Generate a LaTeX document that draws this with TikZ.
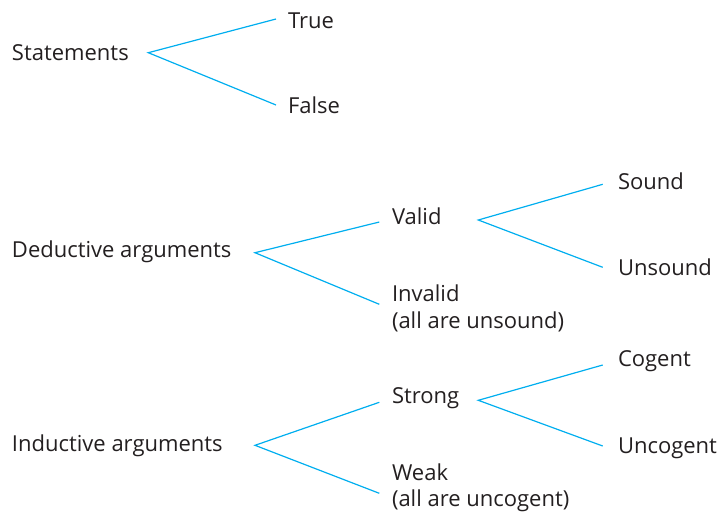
\documentclass[tikz,border=0pt]{standalone}
\usepackage{fontspec}
\setmainfont{Open Sans}
\usetikzlibrary{calc}
\definecolor{linkc}{RGB}{0,174,239}
\definecolor{txt}{RGB}{35,31,32}
\tikzset{
  lbl/.style={inner sep=0pt, outer sep=0pt, anchor=base west, text=txt,
    font=\fontsize{22}{26.7}\selectfont, align=left},
  link/.style={draw=linkc, line width=1.2pt}
}
\begin{document}
\begin{tikzpicture}[x=1pt,y=-1pt]
\useasboundingbox (0,0) rectangle (723,515);
% statements
\node[lbl] (st) at (12,60) {Statements};
\node[lbl] (tr) at (288,28) {True};
\node[lbl] (fa) at (288,113) {False};
% deductive
\node[lbl] (de) at (12,257) {Deductive arguments};
\node[lbl] (va) at (392,224) {Valid};
\node[lbl] (iv) at (392,328) {Invalid\\(all are unsound)};
\node[lbl] (so) at (618,189) {Sound};
\node[lbl] (us) at (618,275) {Unsound};
% inductive
\node[lbl] (in) at (12,451) {Inductive arguments};
\node[lbl] (sg) at (392,403) {Strong};
\node[lbl] (wk) at (392,506.7) {Weak\\(all are uncogent)};
\node[lbl] (cg) at (618,366) {Cogent};
\node[lbl] (ucg) at (618,453.3) {Uncogent};
% connectors
\draw[link] ($(tr.base west)+(-12,-9)$) -- ($(st.base west)+(136.3,-7.3)$) -- ($(fa.base west)+(-12,-8)$);
\draw[link] ($(va.base west)+(-12.7,-2)$) -- ($(de.base west)+(243,-4.3)$) -- ($(iv.base west)+(-12.7,-23.7)$);
\draw[link] ($(so.base west)+(-15.3,-4.7)$) -- ($(va.base west)+(86.3,-4)$) -- ($(us.base west)+(-15.3,-7.7)$);
\draw[link] ($(sg.base west)+(-12.7,-0.7)$) -- ($(in.base west)+(243,-5.7)$) -- ($(wk.base west)+(-12.7,-13.4)$);
\draw[link] ($(cg.base west)+(-15.3,-1)$) -- ($(sg.base west)+(86.3,-2.7)$) -- ($(ucg.base west)+(-15.3,-7.3)$);
\end{tikzpicture}
\end{document}
